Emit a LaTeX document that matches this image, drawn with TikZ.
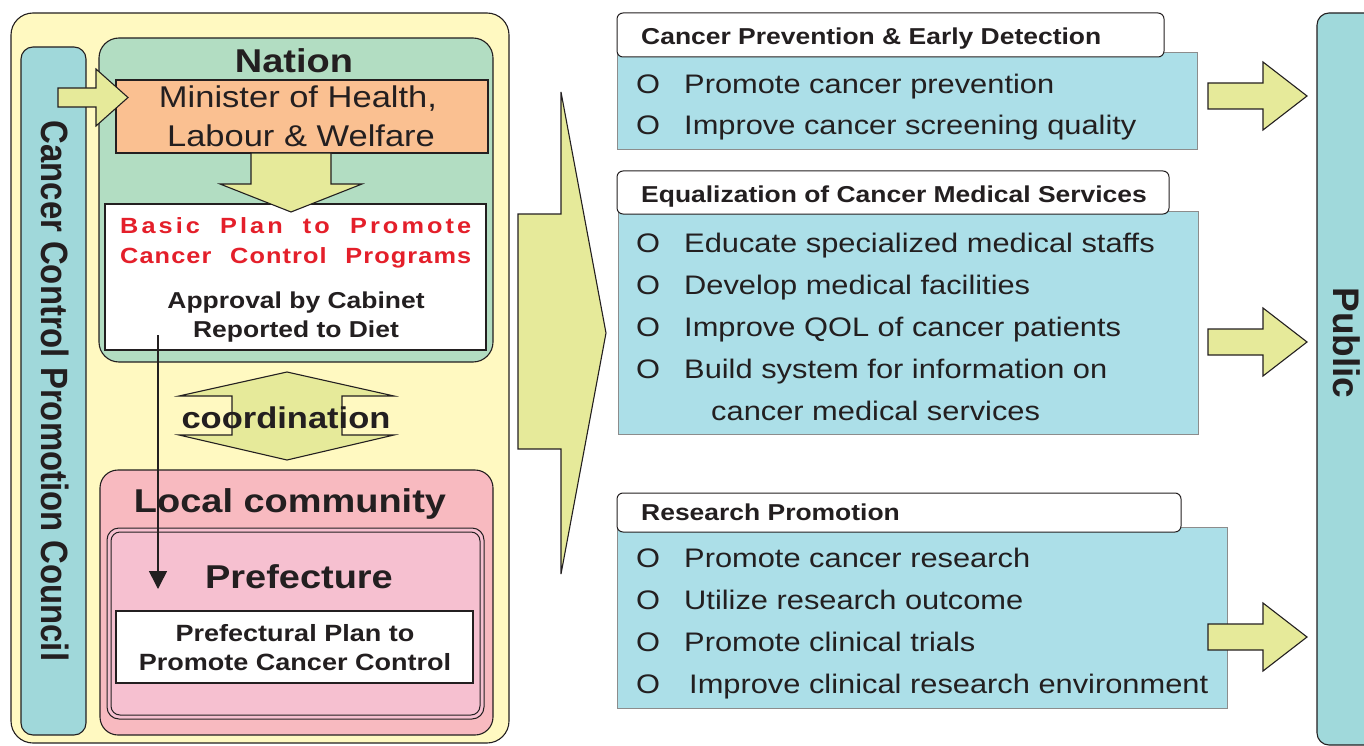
\documentclass[tikz,border=0pt]{standalone}
\usepackage{fontspec}
\setmainfont{Liberation Sans}[FakeStretch=1.15]
\newfontfamily\rotfont{Liberation Sans}
\usetikzlibrary{arrows.meta}
\definecolor{bgyellow}{HTML}{FFF9C1}
\definecolor{councilteal}{HTML}{A0D8DA}
\definecolor{nationgreen}{HTML}{B2DDC2}
\definecolor{ministerorange}{HTML}{FAC091}
\definecolor{arrowyg}{HTML}{E6EA9A}
\definecolor{localpink}{HTML}{F8BAC0}
\definecolor{prefpink}{HTML}{F6C0D0}
\definecolor{bodyblue}{HTML}{ACDFE8}
\definecolor{publicteal}{HTML}{A0D9DB}
\definecolor{planred}{HTML}{E41F2A}
\definecolor{textdark}{HTML}{231F20}
\definecolor{bodygray}{HTML}{8C8C8C}
\newcommand\fsz[1]{\fontsize{#1}{#1}\selectfont}
\begin{document}
\begin{tikzpicture}[x=1pt,y=-1pt,
  edge/.style={draw=textdark, line width=1.1pt},
  blockarrow/.style={fill=arrowyg, draw=textdark, line width=1.1pt, line join=miter},
  txt/.style={inner sep=0pt, text=textdark},
  bodybox/.style={draw=bodygray, line width=1pt, fill=bodyblue},
  headbox/.style={draw=textdark, line width=1pt, fill=white, rounded corners=6pt},
  bullet/.style={txt, anchor=base west, font=\fsz{26.8}}]
\useasboundingbox (0,0) rectangle (1364,746);
\clip (0,0) rectangle (1364,746);

% outer container
\draw[edge, fill=bgyellow, rounded corners=22pt] (11,13) rectangle (509,743);

% council bar
\draw[edge, fill=councilteal, rounded corners=12pt] (21,47) rectangle (86,735);
\node[txt, rotate=-90] (council) at (55,391) {\rotfont\bfseries\fsz{38}\scalebox{0.865}[1]{Cancer Control Promotion Council}};

% Nation
\draw[edge, fill=nationgreen, rounded corners=20pt] (99,38) rectangle (493,362);
\node[txt, anchor=base] (nation) at (294,73) {\bfseries\fsz{33}Nation};
\draw[edge, fill=ministerorange] (116,80) rectangle (488,153);
\node[txt, anchor=base] (min1) at (298,108) {\fsz{30}Minister of Health,};
\node[txt, anchor=base] (min2) at (301,147) {\fsz{30}Labour \& Welfare};

% arrow council -> minister
\draw[blockarrow] (58,88) -- (96,88) -- (96,69) -- (128,97.5) -- (96,126) -- (96,107) -- (58,107) -- cycle;

% basic plan box
\draw[edge, fill=white] (105,204) rectangle (486,350);
\node[txt, anchor=base west, text=planred] (bp1) at (120,233) {\bfseries\fsz{22}\addfontfeature{LetterSpace=14}\makebox[351pt][s]{Basic Plan to Promote}};
\node[txt, anchor=base west, text=planred] (bp2) at (120,263) {\bfseries\fsz{22}\addfontfeature{LetterSpace=5}\makebox[351pt][s]{Cancer Control Programs}};
\node[txt, anchor=base] (ap1) at (296,308) {\bfseries\fsz{23}Approval by Cabinet};
\node[txt, anchor=base] (ap2) at (296,337) {\bfseries\fsz{23}Reported to Diet};

% down arrow
\draw[blockarrow] (251,153) -- (331,153) -- (331,184) -- (362,184) -- (291,212) -- (220,184) -- (251,184) -- cycle;

% coordination
\draw[blockarrow] (287,372) -- (394,396) -- (342,396) -- (342,435) -- (394,435) -- (287,460) -- (179,435) -- (232,435) -- (232,396) -- (179,396) -- cycle;
\node[txt, anchor=base] (coord) at (286,428) {\bfseries\fsz{30}coordination};

% Local community
\draw[edge, fill=localpink, rounded corners=18pt] (100,470) rectangle (493,735);
\node[txt, anchor=base] (local) at (290,512) {\bfseries\fsz{33}Local community};
\draw[edge, line width=1pt, fill=prefpink, rounded corners=12pt] (107,528) rectangle (484,719);
\draw[edge, line width=1pt, rounded corners=9pt] (111,532) rectangle (480,715);
\node[txt, anchor=base] (pref) at (299,588) {\bfseries\fsz{33}Prefecture};
\draw[edge, fill=white] (116,611) rectangle (473,683);
\node[txt, anchor=base] (pp1) at (295,641) {\bfseries\fsz{23.5}Prefectural Plan to};
\node[txt, anchor=base] (pp2) at (295,670) {\bfseries\fsz{23.5}Promote Cancer Control};

% thin arrow basic plan -> prefecture
\coordinate (planout) at (158,335);
\coordinate (prefin) at (158,589);
\draw[draw=textdark, line width=1.6pt, -{Triangle[width=18pt,length=18pt]}] (planout) -- (prefin);

% big arrow
\draw[blockarrow] (518,214) -- (561,214) -- (561,92) -- (606,333) -- (561,574) -- (561,449) -- (518,449) -- cycle;

% box 1
\draw[bodybox] (617,53) rectangle (1197,150);
\draw[headbox] (617,13) rectangle (1164,57);
\node[txt, anchor=base west] (h1) at (641,45) {\bfseries\fsz{23}Cancer Prevention \& Early Detection};
\node[bullet] (b11) at (636,94) {\makebox[48pt][l]{O}Promote cancer prevention};
\node[bullet] (b12) at (636,135) {\makebox[48pt][l]{O}Improve cancer screening quality};

% box 2
\draw[bodybox] (618,211) rectangle (1198,434);
\draw[headbox] (617,171) rectangle (1169,214);
\node[txt, anchor=base west] (h2) at (641,202) {\bfseries\fsz{23}Equalization of Cancer Medical Services};
\node[bullet] (b21) at (636,252) {\makebox[48pt][l]{O}Educate specialized medical staffs};
\node[bullet] (b22) at (636,294) {\makebox[48pt][l]{O}Develop medical facilities};
\node[bullet] (b23) at (636,336) {\makebox[48pt][l]{O}Improve QOL of cancer patients};
\node[bullet] (b24) at (636,378) {\makebox[48pt][l]{O}Build system for information on};
\node[bullet] (b25) at (711,420) {cancer medical services};

% box 3
\draw[bodybox] (617,527) rectangle (1227,708);
\draw[headbox] (617,493) rectangle (1181,532);
\node[txt, anchor=base west] (h3) at (641,520) {\bfseries\fsz{23}Research Promotion};
\node[bullet] (b31) at (636,567) {\makebox[48pt][l]{O}Promote cancer research};
\node[bullet] (b32) at (636,609) {\makebox[48pt][l]{O}Utilize research outcome};
\node[bullet] (b33) at (636,651) {\makebox[48pt][l]{O}Promote clinical trials};
\node[bullet] (b34) at (636,693) {\makebox[53pt][l]{O}Improve clinical research environment};

% small arrows to public
\foreach \yc in {96,342,637}{
  \draw[blockarrow] (1208,\yc-13) -- (1263,\yc-13) -- (1263,\yc-34) -- (1307,\yc) -- (1263,\yc+34) -- (1263,\yc+13) -- (1208,\yc+13) -- cycle;
}

% public
\draw[edge, fill=publicteal, rounded corners=12pt] (1317,13) rectangle (1400,745);
\node[txt, rotate=-90] (public) at (1347,343) {\rotfont\bfseries\fsz{37}Public};
\end{tikzpicture}
\end{document}
